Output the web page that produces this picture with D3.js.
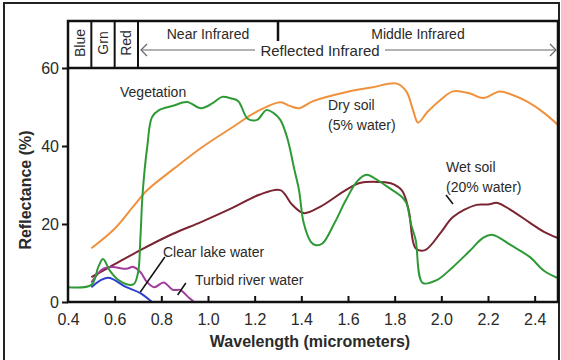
<!DOCTYPE html>
<html>
<head>
<meta charset="utf-8">
<script src="https://cdn.jsdelivr.net/npm/d3@7"></script>
<style>
  body { margin: 0; background: #fff; }
  text { font-family: "Liberation Sans", Arial, sans-serif; fill: #2a2a2a; }
</style>
</head>
<body>
<svg id="chart" width="561" height="360"></svg>
<script>
// reflectance (%) vs wavelength (micrometers)
const drySoil = [[0.50,13.8],[0.60,18.8],[0.68,24.5],[0.74,28.7],[0.85,34],[0.97,39.5],[1.11,45],[1.20,48.5],[1.31,51.2],[1.35,50.3],[1.39,49.7],[1.45,51.5],[1.59,53.8],[1.70,55],[1.81,56],[1.85,54],[1.88,49],[1.90,46],[1.94,48.7],[2.00,52],[2.05,54],[2.12,53.5],[2.18,52.3],[2.25,54],[2.30,53.2],[2.37,51.3],[2.44,48.5],[2.50,45.4]];
const vegetation = [[0.40,3.8],[0.50,4.4],[0.53,9],[0.55,11],[0.58,8],[0.62,5.5],[0.68,4.5],[0.70,7.5],[0.71,16],[0.72,28],[0.74,40],[0.76,47.4],[0.79,49.2],[0.85,50.3],[0.91,51.3],[0.97,49.7],[1.02,51],[1.06,52.6],[1.10,52.2],[1.13,51.5],[1.17,47],[1.21,46.7],[1.25,49.2],[1.28,48.5],[1.31,46.7],[1.34,42],[1.37,34],[1.39,28.7],[1.41,20.3],[1.44,15.5],[1.46,14.6],[1.49,15],[1.54,20],[1.59,26],[1.64,31],[1.68,32.6],[1.72,31.5],[1.77,29.5],[1.83,27],[1.85,25.4],[1.87,20],[1.89,15.9],[1.92,4.9],[1.98,5.6],[2.05,9],[2.12,13],[2.18,16.5],[2.22,17.2],[2.30,14.5],[2.38,11.5],[2.44,8],[2.50,6.1]];
const wetSoil = [[0.50,6.4],[0.58,9],[0.71,13.3],[0.85,17.5],[0.97,20.5],[1.10,24],[1.22,27.5],[1.31,28.7],[1.36,25],[1.41,22.8],[1.48,24.4],[1.59,28.7],[1.65,30.5],[1.72,30.8],[1.78,30.5],[1.83,28.7],[1.86,23.6],[1.89,13.8],[1.93,13.3],[2.00,18],[2.05,21.8],[2.15,24.9],[2.20,25],[2.24,25.4],[2.30,23.5],[2.38,20.3],[2.44,18],[2.50,16.4]];
const clearLake = [[0.50,3.8],[0.57,6.2],[0.65,3.8],[0.71,2.3],[0.76,0]];
const turbidRiver = [[0.50,5],[0.55,8.5],[0.59,9],[0.65,8.5],[0.68,9],[0.71,7.7],[0.74,5],[0.77,3.8],[0.81,5],[0.85,3.1],[0.88,3.1],[0.92,1],[0.94,0]];

const xTicks = [0.4,0.6,0.8,1.0,1.2,1.4,1.6,1.8,2.0,2.2,2.4];
const yTicks = [0,20,40,60];
const bands = [{label:"Blue",from:0.4,to:0.5},{label:"Grn",from:0.5,to:0.6},{label:"Red",from:0.6,to:0.7}];

const svg = d3.select("#chart");
const x = d3.scaleLinear().domain([0.4,2.5]).range([68,558]);
const y = d3.scaleLinear().domain([0,60]).range([302,68]);

// outer frame
svg.append("rect").attr("x",4).attr("y",3).attr("width",555).attr("height",370)
  .attr("fill","none").attr("stroke","#222").attr("stroke-width",2);

// curves
const line = d3.line().x(d => x(d[0])).y(d => y(d[1])).curve(d3.curveCatmullRom.alpha(0.5));
const series = [
  {data: drySoil, color: "#f0913c"},
  {data: wetSoil, color: "#7b2432"},
  {data: turbidRiver, color: "#a23c9c"},
  {data: clearLake, color: "#2a3fd0"},
  {data: vegetation, color: "#2e9a36"}
];
svg.append("g").selectAll("path").data(series).join("path")
  .attr("d", d => line(d.data))
  .attr("fill","none").attr("stroke", d => d.color).attr("stroke-width",2);

// axes
const xAxis = svg.append("g").attr("transform",`translate(0,${y(0)})`)
  .call(d3.axisBottom(x).tickValues(xTicks).tickSizeInner(-6).tickSizeOuter(0).tickPadding(12).tickFormat(d3.format(".1f")));
const yAxis = svg.append("g").attr("transform",`translate(${x(0.4)},0)`)
  .call(d3.axisLeft(y).tickValues(yTicks).tickSizeInner(6).tickSizeOuter(0).tickPadding(3));
[xAxis, yAxis].forEach(a => {
  a.select(".domain").remove();
  a.selectAll("line").attr("stroke","#111").attr("stroke-width",2);
  a.selectAll("text").attr("font-size",16).attr("fill","#3a3a3a");
});
xAxis.selectAll(".tick").filter(d => d === 0.4).select("line").remove();

// plot box and header
svg.append("rect").attr("x",x(0.4)).attr("y",21).attr("width",x(2.5)-x(0.4)).attr("height",y(0)-21)
  .attr("fill","none").attr("stroke","#111").attr("stroke-width",2.5);
svg.append("line").attr("x1",x(0.4)).attr("x2",x(2.5)).attr("y1",y(60)).attr("y2",y(60))
  .attr("stroke","#111").attr("stroke-width",2.5);

const header = svg.append("g");
header.selectAll("line.band").data(bands).join("line").attr("class","band")
  .attr("x1", d => x(d.to)).attr("x2", d => x(d.to)).attr("y1",21).attr("y2",y(60))
  .attr("stroke","#111").attr("stroke-width",2);
header.selectAll("text.band").data(bands).join("text").attr("class","band")
  .attr("transform", d => `translate(${(x(d.from)+x(d.to))/2+5},43) rotate(-90)`)
  .attr("text-anchor","middle").attr("font-size",14).text(d => d.label);
header.append("line").attr("x1",x(1.3)).attr("x2",x(1.3)).attr("y1",21).attr("y2",42)
  .attr("stroke","#111").attr("stroke-width",2.5);
header.append("text").attr("x",(x(0.7)+x(1.3))/2).attr("y",39).attr("text-anchor","middle")
  .attr("font-size",14).text("Near Infrared");
header.append("text").attr("x",(x(1.3)+x(2.5))/2).attr("y",39).attr("text-anchor","middle")
  .attr("font-size",14).text("Middle Infrared");

// reflected infrared arrow
const ay = 50;
header.append("line").attr("x1",x(0.7)+3).attr("x2",x(2.5)-2).attr("y1",ay).attr("y2",ay)
  .attr("stroke","#666").attr("stroke-width",1.2);
header.append("path").attr("d",`M${x(0.7)+9},${ay-6}L${x(0.7)+3},${ay}L${x(0.7)+9},${ay+6}`)
  .attr("fill","none").attr("stroke","#666").attr("stroke-width",1.2);
header.append("path").attr("d",`M${x(2.5)-8},${ay-6}L${x(2.5)-2},${ay}L${x(2.5)-8},${ay+6}`)
  .attr("fill","none").attr("stroke","#666").attr("stroke-width",1.2);
header.append("rect").attr("x",255).attr("y",ay-9).attr("width",130).attr("height",18).attr("fill","#fff");
header.append("text").attr("x",320).attr("y",ay+6).attr("text-anchor","middle")
  .attr("font-size",15).text("Reflected Infrared");

// axis titles
svg.append("text").attr("x",310).attr("y",347).attr("text-anchor","middle")
  .attr("font-size",16).attr("font-weight","bold").attr("fill","#222").text("Wavelength (micrometers)");
svg.append("text").attr("transform","translate(31,190) rotate(-90)").attr("text-anchor","middle")
  .attr("font-size",16).attr("font-weight","bold").attr("fill","#222").text("Reflectance (%)");

// annotations
const notes = svg.append("g").attr("font-size",14);
notes.append("text").attr("x",120).attr("y",97).text("Vegetation");
notes.append("text").attr("x",328).attr("y",110).text("Dry soil");
notes.append("text").attr("x",328).attr("y",130).text("(5% water)");
notes.append("text").attr("x",446).attr("y",172).text("Wet soil");
notes.append("text").attr("x",446).attr("y",192).text("(20% water)");
notes.append("text").attr("x",163).attr("y",257).text("Clear lake water");
notes.append("text").attr("x",195).attr("y",285).text("Turbid river water");

const leaderLines = [
  {from:[x(0.815),257], to:[x(0.71),292]},
  {from:[x(0.905),283], to:[x(0.87),295]},
  {from:[x(2.02),195], to:[x(2.05),204]}
];
svg.append("g").selectAll("line").data(leaderLines).join("line")
  .attr("x1", d => d.from[0]).attr("y1", d => d.from[1])
  .attr("x2", d => d.to[0]).attr("y2", d => d.to[1])
  .attr("stroke","#111").attr("stroke-width",1.5);
</script>
</body>
</html>
